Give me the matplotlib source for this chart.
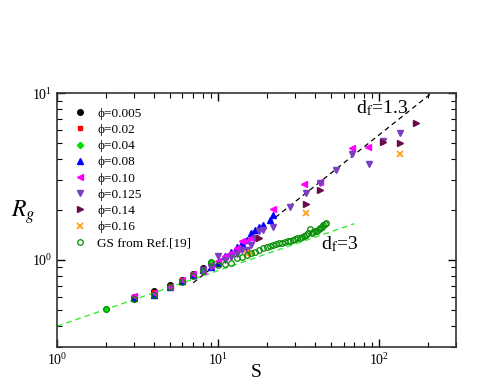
import matplotlib
matplotlib.use("Agg")
import matplotlib.pyplot as plt
import numpy as np
from matplotlib.ticker import LogLocator, NullFormatter

plt.rcParams['font.family'] = ['Liberation Serif', 'DejaVu Serif']
plt.rcParams['mathtext.fontset'] = 'stix'

# ---- data ----
s_005 = [3, 4, 5, 6, 7, 8, 9]
rg_005 = [0.595, 0.648, 0.71, 0.76, 0.825, 0.89, 0.955]

s_02 = [2, 3, 4, 5, 6, 7, 8, 9]
rg_02 = [0.505, 0.60, 0.64, 0.70, 0.755, 0.82, 0.88, 0.95]

s_04 = [2, 3, 4, 5, 6, 7, 8, 9]
rg_04 = [0.505, 0.585, 0.615, 0.686, 0.742, 0.81, 0.875, 0.975]

s_08 = [3, 4, 5, 6, 7, 8, 9, 10, 11, 12, 13, 14, 15, 16, 17, 18, 19, 21, 22]
rg_08 = [0.59, 0.615, 0.69, 0.75, 0.81, 0.865, 0.90, 0.96, 1.05, 1.12, 1.2, 1.26,
         1.32, 1.44, 1.51, 1.58, 1.62, 1.74, 1.86]

s_10 = [3, 4, 5, 6, 7, 8, 9, 10, 11, 12, 13, 14, 15, 16, 22, 34, 43, 68, 85]
rg_10 = [0.605, 0.63, 0.69, 0.76, 0.82, 0.86, 0.93, 0.98, 1.05, 1.10, 1.17, 1.29,
         1.30, 1.35, 2.02, 2.85, 2.94, 4.67, 4.77]

s_125 = [8, 9, 10, 11, 12, 13, 14, 15, 16, 17, 18, 19, 22, 28, 35, 43, 54, 68, 86, 106, 134]
rg_125 = [0.87, 0.91, 1.05, 1.0, 1.04, 1.09, 1.15, 1.14, 1.22, 1.35, 1.48, 1.51,
          1.58, 2.08, 2.53, 2.88, 3.46, 4.31, 3.76, 5.15, 5.78]

s_14 = [18, 35, 43, 106, 134, 169]
rg_14 = [1.35, 2.16, 2.62, 5.07, 5.0, 6.58]

s_16 = [15, 16, 35, 134]
rg_16 = [1.08, 1.10, 1.92, 4.31]

s_gs = list(range(2, 48))
rg_gs = [0.505, 0.58, 0.615, 0.685, 0.74, 0.80, 0.86, 0.965, 0.925, 0.942, 0.963,
         1.023, 1.037, 1.071, 1.096, 1.121, 1.148, 1.175, 1.20, 1.218, 1.229, 1.24,
         1.259, 1.27, 1.276, 1.29, 1.30, 1.31, 1.336, 1.345, 1.36, 1.37, 1.39, 1.41,
         1.445, 1.53, 1.457, 1.46, 1.48, 1.49, 1.53, 1.55, 1.58, 1.61, 1.64, 1.67]

# fit lines: Rg = A * s^(1/df)
line13_s = [7.0, 210.0]
line13_A = 0.163
line3_s = [1.0, 70.0]
line3_A = 0.40

fig = plt.figure(figsize=(4.98, 3.85), dpi=100)
ax = fig.add_axes([0.1145, 0.0987, 0.8015, 0.6593])

ms = 4
ax.plot(s_005, rg_005, 'o', color='black', ms=ms, label='ϕ=0.005', zorder=3)
ax.plot(s_02, rg_02, 's', color='#ff0000', ms=ms - 0.5, label='ϕ=0.02', zorder=3)
ax.plot(s_04, rg_04, 'D', color='#00e000', ms=ms - 0.8, label='ϕ=0.04', zorder=3)
ax.plot(s_08, rg_08, '^', color='#0000ff', ms=ms, label='ϕ=0.08', zorder=3)
ax.plot(s_10, rg_10, '<', color='#ff00ff', ms=ms + 0.5, label='ϕ=0.10', zorder=3)
ax.plot(s_125, rg_125, 'v', color='#7a3fc0', ms=ms + 0.5, label='ϕ=0.125', zorder=3)
ax.plot(s_14, rg_14, '>', color='#6a0a48', ms=ms + 0.5, label='ϕ=0.14', zorder=3)
ax.plot(s_16, rg_16, 'x', color='#ffa020', ms=ms, mew=1.3, label='ϕ=0.16', zorder=3)
ax.plot(s_gs, rg_gs, 'o', mfc='none', mec='#008c00', ms=ms, mew=0.9,
        label='GS from Ref.[19]', zorder=4)

x13 = np.array(line13_s)
ax.plot(x13, line13_A * x13 ** (1 / 1.3), '--', color='black', lw=0.9,
        dashes=(4, 3), zorder=2)
x3 = np.array(line3_s)
ax.plot(x3, line3_A * x3 ** (1 / 3), '--', color='#33ee33', lw=1.0,
        dashes=(4, 3), zorder=2)

ax.set_xscale('log')
ax.set_yscale('log')
ax.set_xlim(1, 300)
ax.set_ylim(0.3, 10)

ax.xaxis.set_major_locator(LogLocator(base=10, numticks=10))
ax.yaxis.set_major_locator(LogLocator(base=10, numticks=10))
ax.xaxis.set_minor_locator(LogLocator(base=10, subs=np.arange(2, 10), numticks=20))
ax.yaxis.set_minor_locator(LogLocator(base=10, subs=np.arange(2, 10), numticks=20))
ax.xaxis.set_minor_formatter(NullFormatter())
ax.yaxis.set_minor_formatter(NullFormatter())

ax.tick_params(which='both', direction='in', top=True, right=True, labelsize=10)
ax.tick_params(which='major', length=6, width=1)
ax.tick_params(which='minor', length=3.5, width=0.8)
for sp in ax.spines.values():
    sp.set_linewidth(1.2)
    sp.set_color('#333333')

ax.set_xlabel('S', fontsize=14, labelpad=-3)
ax.set_ylabel('$R_g$', fontsize=17, rotation=0, va='center', ha='center')
ax.yaxis.set_label_coords(-0.085, 0.53)

ax.text(104, 7.6, r'd$_{\rm f}$=1.3', fontsize=14, ha='center', va='baseline')
ax.text(57, 1.15, r'd$_{\rm f}$=3', fontsize=14, ha='center', va='baseline')

ax.legend(loc='upper left', bbox_to_anchor=(0.0075, 0.995), frameon=False,
          fontsize=9.5, handlelength=1.0, handletextpad=0.83, labelspacing=0.3,
          borderaxespad=0.6, markerscale=1.0)

fig.savefig('out.png', dpi=100)
